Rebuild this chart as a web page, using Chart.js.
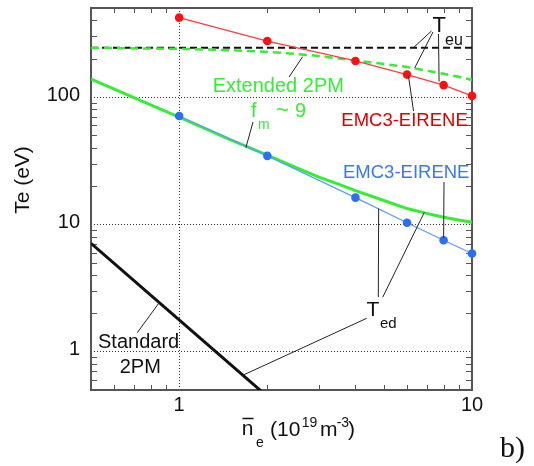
<!DOCTYPE html>
<html>
<head>
<meta charset="utf-8">
<script src="https://cdn.jsdelivr.net/npm/chart.js@4.4.1/dist/chart.umd.min.js"></script>
<style>
  html, body { margin: 0; padding: 0; background: #fff; }
  #chart-container { display: block; }
</style>
</head>
<body>
<canvas id="chart-container" width="534" height="466"></canvas>
<script>
// line-averaged density (10^19 m^-3) and temperatures (eV)
const neEmc = [1, 2, 4, 6, 8, 10];
const teuEmc = [420, 275, 192, 150, 124, 102];
const tedEmc = [71, 34.5, 16.2, 10.3, 7.5, 5.9];

const neExt = [0.5, 1, 1.5, 2, 2.5, 3, 3.5, 4, 5, 6, 7, 8, 9, 10];
const teuExt = [243, 239, 233, 226, 218, 210, 201, 193, 182, 172, 161, 152, 144, 136];
const tedExt = [138, 69.5, 46, 35, 28, 23.5, 20.7, 18.4, 15.4, 13.3, 12.2, 11.35, 10.8, 10.4];

const neStd = [0.5, 1, 2];
const tedStd = [7.1, 1.78, 0.445];

const neRef = [0.5, 10];
const teuRef = [244, 244];

const xTicks = [1, 10];
const yTicks = [1, 10, 100];
const xMinor = [0.6, 0.7, 0.8, 0.9, 2, 3, 4, 5, 6, 7, 8, 9];
const yMinor = [0.6, 0.7, 0.8, 0.9, 2, 3, 4, 5, 6, 7, 8, 9, 20, 30, 40, 50, 60, 70, 80, 90, 200, 300, 400];

const GREEN = "#33ee33";
const SANS = "'Liberation Sans', Arial, sans-serif";

function pairs(xs, ys) {
    return xs.map((x, i) => ({ x: x, y: ys[i] }));
}

function toPx(chart, x, y) {
    return [chart.scales.x.getPixelForValue(x), chart.scales.y.getPixelForValue(y)];
}

function text(ctx, s, x, y, size, color, align) {
    ctx.font = size + "px " + SANS;
    ctx.fillStyle = color || "#111";
    ctx.textAlign = align || "left";
    ctx.textBaseline = "alphabetic";
    ctx.fillText(s, x, y);
}

function leader(ctx, chart, from, to) {
    const p = toPx(chart, to[0], to[1]);
    ctx.beginPath();
    ctx.moveTo(from[0], from[1]);
    ctx.lineTo(p[0], p[1]);
    ctx.stroke();
}

function noEdgePadding(scale) {
    scale.paddingTop = 0;
    scale.paddingBottom = 0;
    scale.paddingLeft = 0;
    scale.paddingRight = 0;
}

const frameAndTicks = {
    id: "frameAndTicks",
    beforeDatasetsDraw(chart) {
        const ctx = chart.ctx;
        const a = chart.chartArea;
        const xs = chart.scales.x, ys = chart.scales.y;
        ctx.save();
        ctx.strokeStyle = "#555";
        ctx.lineWidth = 1;
        ctx.beginPath();
        xMinor.forEach(v => {
            const px = Math.round(xs.getPixelForValue(v)) + 0.5;
            ctx.moveTo(px, a.bottom); ctx.lineTo(px, a.bottom - 5);
            ctx.moveTo(px, a.top); ctx.lineTo(px, a.top + 5);
        });
        yMinor.forEach(v => {
            const py = Math.round(ys.getPixelForValue(v)) + 0.5;
            ctx.moveTo(a.left, py); ctx.lineTo(a.left + 6, py);
            ctx.moveTo(a.right, py); ctx.lineTo(a.right - 6, py);
        });
        ctx.stroke();
        ctx.lineWidth = 2;
        ctx.strokeRect(a.left, a.top, a.right - a.left, a.bottom - a.top);
        ctx.restore();
    }
};

const labels = {
    id: "labels",
    afterDatasetsDraw(chart) {
        const ctx = chart.ctx;
        ctx.save();
        ctx.strokeStyle = "#222";
        ctx.lineWidth = 1;

        // T_eu
        text(ctx, "T", 432.5, 31.5, 22);
        text(ctx, "eu", 445, 45, 16);
        leader(ctx, chart, [431.5, 31], [6.31, 244]);
        leader(ctx, chart, [433, 32], [6.37, 169]);
        leader(ctx, chart, [438.5, 34], [7.72, 132]);

        // extended two point model
        text(ctx, "Extended 2PM", 212.7, 92, 20, GREEN);
        leader(ctx, chart, [289, 77], [2.64, 207]);
        text(ctx, "f", 251, 117, 20, GREEN);
        text(ctx, "m", 258, 128.5, 14, GREEN);
        text(ctx, "~", 276, 117, 22, GREEN);
        text(ctx, "9", 295, 117, 20, GREEN);
        leader(ctx, chart, [253, 122], [1.69, 40]);

        // EMC3-EIRENE labels
        text(ctx, "EMC3-EIRENE", 341.3, 126, 18.5, "#dd0000");
        leader(ctx, chart, [413.5, 111], [6.07, 146]);
        text(ctx, "EMC3-EIRENE", 343, 178, 18.5, "#3a78f0");
        leader(ctx, chart, [444, 182], [8, 7.85]);

        // T_ed
        text(ctx, "T", 366.5, 316, 21);
        text(ctx, "ed", 380, 328, 15);
        leader(ctx, chart, [378.3, 297], [4.8, 13.3]);
        leader(ctx, chart, [382.7, 297.3], [6.87, 12.4]);
        leader(ctx, chart, [366.7, 318.3], [1.65, 0.653]);

        // standard two point model
        text(ctx, "Standard", 98, 348, 20);
        text(ctx, "2PM", 119.7, 373, 20);
        leader(ctx, chart, [137.3, 332.7], [0.855, 2.43]);

        // axis titles
        ctx.save();
        ctx.translate(28.5, 180);
        ctx.rotate(-Math.PI / 2);
        text(ctx, "Te (eV)", 0, 0, 21, "#111", "center");
        ctx.restore();

        text(ctx, "n", 241.7, 435, 21);
        ctx.lineWidth = 1.5;
        ctx.strokeStyle = "#111";
        ctx.beginPath();
        ctx.moveTo(242.5, 418.5);
        ctx.lineTo(253.5, 418.5);
        ctx.stroke();
        text(ctx, "e", 256, 446.7, 14);
        text(ctx, "(10", 270, 436, 21);
        text(ctx, "19", 301.7, 426.7, 14);
        text(ctx, "m", 320, 436, 21);
        text(ctx, "-3", 336.7, 426.7, 14);
        text(ctx, ")", 348, 436, 21);

        ctx.font = "30px 'Liberation Serif', 'DejaVu Serif', serif";
        ctx.fillStyle = "#111";
        ctx.textAlign = "left";
        ctx.fillText("b)", 500, 457);
        ctx.restore();
    }
};

Chart.defaults.font.family = SANS;

const ctx = document.getElementById("chart-container").getContext("2d");

window.myChart = new Chart(ctx, {
    type: "scatter",
    data: {
        datasets: [
            {
                label: "EMC3-EIRENE Teu",
                data: pairs(neEmc, teuEmc),
                showLine: true,
                borderColor: "#ff3b3b",
                borderWidth: 1.2,
                backgroundColor: "#ff1010",
                pointRadius: 4.3,
                pointBorderWidth: 0,
                clip: false,
                order: 1,
            },
            {
                label: "EMC3-EIRENE Ted",
                data: pairs(neEmc, tedEmc),
                showLine: true,
                borderColor: "#5c9cff",
                borderWidth: 1.2,
                backgroundColor: "#2a6ff5",
                pointRadius: 4.3,
                pointBorderWidth: 0,
                clip: false,
                order: 2,
            },
            {
                label: "Extended 2PM Teu",
                data: pairs(neExt, teuExt),
                showLine: true,
                borderColor: GREEN,
                borderWidth: 2.5,
                borderDash: [8, 5],
                pointRadius: 0,
                order: 3,
            },
            {
                label: "Teu reference",
                data: pairs(neRef, teuRef),
                showLine: true,
                borderColor: "#111",
                borderWidth: 2,
                borderDash: [7, 4],
                pointRadius: 0,
                order: 4,
            },
            {
                label: "Extended 2PM Ted",
                data: pairs(neExt, tedExt),
                showLine: true,
                borderColor: GREEN,
                borderWidth: 3,
                pointRadius: 0,
                order: 5,
            },
            {
                label: "Standard 2PM Ted",
                data: pairs(neStd, tedStd),
                showLine: true,
                borderColor: "#111",
                borderWidth: 3,
                pointRadius: 0,
                order: 6,
            },
        ],
    },
    options: {
        responsive: false,
        animation: false,
        events: [],
        layout: { padding: { left: 0, top: 8, right: 62, bottom: 0 } },
        plugins: {
            legend: { display: false },
            tooltip: { enabled: false },
        },
        scales: {
            x: {
                type: "logarithmic",
                min: 0.5,
                max: 10,
                afterBuildTicks: function (scale) {
                    scale.ticks = xTicks.map(v => ({ value: v }));
                },
                afterFit: function (scale) {
                    scale.height = 76;
                    noEdgePadding(scale);
                },
                ticks: {
                    color: "#111",
                    font: { size: 20 },
                    padding: 3,
                    maxRotation: 0,
                    autoSkip: false,
                    callback: v => String(v),
                },
                grid: { color: "#333", lineWidth: 1, drawTicks: false },
                border: { display: false, dash: [1, 2] },
            },
            y: {
                type: "logarithmic",
                min: 0.5,
                max: 500,
                afterBuildTicks: function (scale) {
                    scale.ticks = yTicks.map(v => ({ value: v }));
                },
                afterFit: function (scale) {
                    scale.width = 91;
                    noEdgePadding(scale);
                },
                ticks: {
                    color: "#111",
                    font: { size: 20 },
                    padding: 11,
                    labelOffset: -2,
                    autoSkip: false,
                    callback: v => String(v),
                },
                grid: { color: "#333", lineWidth: 1, drawTicks: false },
                border: { display: false, dash: [1, 2] },
            },
        },
    },
    plugins: [frameAndTicks, labels],
});
</script>
</body>
</html>
